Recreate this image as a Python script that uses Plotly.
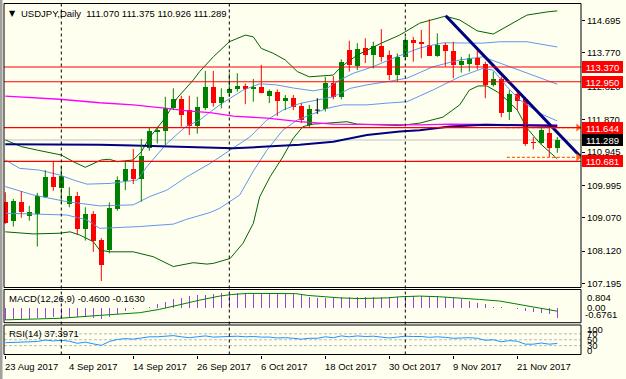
import plotly.graph_objects as go

W, H = 626, 379

# ---------------- data ----------------
dates = ["23 Aug", "24 Aug", "25 Aug", "28 Aug", "29 Aug", "30 Aug", "31 Aug",
         "1 Sep", "4 Sep", "5 Sep", "6 Sep", "7 Sep", "8 Sep", "11 Sep", "12 Sep", "13 Sep",
         "14 Sep", "15 Sep", "18 Sep", "19 Sep", "20 Sep", "21 Sep", "22 Sep", "25 Sep",
         "26 Sep", "27 Sep", "28 Sep", "29 Sep",
         "2 Oct", "3 Oct", "4 Oct", "5 Oct", "6 Oct", "9 Oct", "10 Oct", "11 Oct", "12 Oct",
         "13 Oct", "16 Oct", "17 Oct", "18 Oct", "19 Oct", "20 Oct", "23 Oct", "24 Oct",
         "25 Oct", "26 Oct", "27 Oct", "30 Oct", "31 Oct",
         "1 Nov", "2 Nov", "3 Nov", "6 Nov", "7 Nov", "8 Nov", "9 Nov", "10 Nov", "13 Nov",
         "14 Nov", "15 Nov", "16 Nov", "17 Nov", "20 Nov", "21 Nov", "22 Nov", "23 Nov",
         "24 Nov", "27 Nov", "28 Nov"]

opens = [109.53, 108.99, 109.51, 109.13, 109.18, 109.67, 110.23, 109.93, 109.46, 109.69,
         108.75, 109.18, 108.44, 108.15, 109.32, 110.12, 110.46, 110.18, 111.05, 111.53,
         111.55, 112.19, 112.46, 112.14, 111.70, 112.19, 112.81, 112.34, 112.62, 112.73,
         112.83, 112.73, 112.81, 112.55, 112.67, 112.41, 112.49, 112.26, 111.72, 112.14,
         112.16, 112.92, 112.51, 113.86, 113.40, 113.90, 113.71, 113.97, 113.71, 113.14,
         113.65, 114.14, 114.08, 114.00, 113.68, 114.00, 113.84, 113.43, 113.46, 113.62,
         113.46, 112.86, 113.03, 112.10, 112.60, 112.45, 111.20, 111.19, 111.48, 111.070]
highs = [109.80, 109.61, 109.83, 109.41, 109.78, 110.43, 110.67, 110.53, 109.94, 109.81,
         109.37, 109.26, 108.49, 109.51, 110.25, 110.67, 111.03, 111.32, 111.65, 111.67,
         112.52, 112.76, 112.55, 112.55, 112.52, 113.26, 113.26, 112.76, 113.19, 113.19,
         112.90, 113.03, 113.43, 112.73, 112.73, 112.57, 112.57, 112.34, 112.29, 112.48,
         113.09, 113.11, 113.59, 114.12, 114.05, 114.19, 114.09, 114.45, 113.84, 113.76,
         114.23, 114.23, 114.43, 114.73, 114.33, 114.06, 114.09, 113.66, 113.74, 113.93,
         113.52, 113.24, 113.09, 112.71, 112.71, 112.51, 111.37, 111.67, 111.67, 111.375]
lows = [108.90, 108.82, 109.07, 108.99, 108.25, 109.65, 109.84, 109.48, 109.37, 108.58,
        108.42, 108.10, 107.27, 108.06, 109.27, 109.86, 110.03, 109.53, 110.98, 111.19,
        111.15, 112.14, 111.67, 111.43, 111.47, 112.14, 112.24, 112.19, 112.52, 112.67,
        112.31, 112.38, 112.62, 112.34, 111.97, 112.14, 112.14, 111.77, 111.65, 112.03,
        112.10, 112.45, 112.45, 113.24, 113.28, 113.48, 113.33, 113.52, 113.00, 112.95,
        113.57, 113.52, 113.62, 113.68, 113.66, 113.38, 113.05, 113.21, 113.24, 113.30,
        112.48, 112.81, 111.94, 111.86, 112.14, 111.12, 111.02, 111.17, 110.80, 110.926]
closes = [108.91, 109.56, 109.24, 109.24, 109.69, 110.23, 109.94, 110.26, 109.69, 108.75,
          109.18, 108.42, 107.72, 109.34, 110.15, 110.46, 110.18, 110.84, 111.55, 111.57,
          112.19, 112.46, 112.00, 111.70, 112.24, 112.81, 112.34, 112.52, 112.74, 112.83,
          112.73, 112.81, 112.64, 112.69, 112.41, 112.50, 112.24, 111.86, 112.16, 112.14,
          112.92, 112.51, 113.52, 113.43, 113.88, 113.71, 113.97, 113.66, 113.14, 113.66,
          114.14, 114.06, 114.03, 113.68, 114.00, 113.84, 113.43, 113.55, 113.62, 113.43,
          112.86, 113.03, 112.07, 112.60, 112.41, 111.17, 111.19, 111.57, 111.07, 111.289]

# Bollinger bands (20,2) green, (20,1) blue
bb_up2_idx = [0, 2, 4, 7, 8.5, 10, 12, 13, 14, 16, 17, 18, 20, 21.5, 23.5, 24.3, 26, 28, 30, 31,
              32, 33.5, 35, 36.5, 38, 41, 42, 44, 47, 49.3, 51.8, 55, 56.8, 59, 61, 63, 65.2,
              67.7, 69]
bb_up2_val = [111.29, 111.10, 111.00, 110.86, 110.67, 110.51, 110.72, 110.74, 110.67, 110.72,
              110.95, 111.35, 111.92, 112.49, 113.00, 113.24, 113.66, 114.09, 114.28, 114.23,
              113.90, 113.76, 113.57, 113.24, 113.09, 113.14, 113.38, 113.71, 114.05, 114.28,
              114.62, 114.82, 114.71, 114.40, 114.31, 114.57, 114.85, 114.94, 114.97]
bb_lo2_idx = [0, 3.5, 6.8, 8.1, 9.3, 11, 11.8, 13.1, 16, 18.5, 21, 23.5, 25.2, 26, 28.1, 29.7,
              31, 31.8, 33.1, 34.7, 36, 37.2, 38.5, 40.2, 42.7, 44, 46, 49.3, 51.8, 54.7, 56.8,
              58, 59.1, 60.2, 61.5, 62.7, 64, 65.2, 66.8, 69]
bb_lo2_val = [108.67, 108.61, 108.63, 108.67, 108.58, 108.39, 108.15, 108.10, 108.10, 107.96,
              107.68, 107.79, 107.75, 107.77, 107.91, 108.34, 108.91, 109.67, 110.24, 110.81,
              111.34, 111.67, 111.74, 111.76, 111.81, 111.74, 111.72, 111.70, 111.77, 111.94,
              112.29, 112.71, 112.83, 112.83, 112.66, 112.43, 112.14, 111.63, 111.20, 110.75]
bb_up1_idx = [0, 1.8, 4.3, 6.8, 8.5, 10.2, 13.1, 15.2, 16.5, 17.7, 20.2, 22.5, 24.3, 26.8,
              29.7, 31.8, 33.9, 36, 38.5, 40.2, 41.8, 43.5, 46, 48.9, 51.8, 54.7, 59.7, 61.8,
              65.2, 69]
bb_up1_val = [110.72, 110.48, 110.43, 110.29, 110.15, 110.03, 110.05, 110.10, 110.15, 110.53,
              111.19, 111.66, 111.86, 112.29, 112.71, 112.89, 112.86, 112.77, 112.69, 112.76,
              113.00, 113.19, 113.38, 113.66, 113.91, 114.06, 114.05, 114.09, 114.09, 113.94]
bb_mid_idx = [0, 3.5, 7.7, 11.8, 16, 18, 20.2, 22.7, 25.6, 28.1, 30.6, 32.7, 34.7, 36.8, 39,
              41, 43.1, 45.2, 47.7, 50.2, 53.5, 56.8, 59.7, 61.8, 65.2, 69]
bb_mid_val = [109.96, 109.72, 109.53, 109.41, 109.44, 109.67, 109.86, 110.24, 110.62, 111.00,
              111.38, 111.86, 112.14, 112.33, 112.43, 112.52, 112.76, 112.86, 112.95, 113.05,
              113.38, 113.57, 113.66, 113.48, 113.19, 112.88]
bb_lo1_idx = [0, 7.7, 10.2, 11.8, 16.8, 21, 22.7, 25.6, 26.8, 29.3, 31, 32.7, 34.7, 36.5, 38.1,
              40.2, 42.2, 45.2, 47.7, 50.2, 53.5, 56.8, 59.7, 61, 62.7, 64.3, 66.8, 69]
bb_lo1_val = [109.20, 109.15, 109.01, 108.77, 108.82, 108.89, 109.03, 109.22, 109.34, 109.72,
              110.40, 111.00, 111.57, 111.86, 112.00, 112.19, 112.29, 112.29, 112.34, 112.38,
              112.72, 113.09, 113.33, 113.28, 112.81, 112.43, 112.05, 111.83]

# moving averages
ma_mag_idx = [0, 3.5, 6.8, 11.8, 16, 20.2, 22.7, 25.6, 28.5, 32.7, 36.8, 41, 45.2, 49.3, 51.8,
              55.6, 64.7, 69]
ma_mag_val = [112.54, 112.50, 112.45, 112.35, 112.29, 112.19, 112.12, 112.07, 111.97, 111.91,
              111.81, 111.74, 111.73, 111.72, 111.72, 111.74, 111.73, 111.72]
ma_navy_idx = [0, 3.5, 7.7, 11.8, 16, 20.2, 22.7, 25.6, 28.5, 32.7, 36.8, 41, 45.2, 49.3, 51.8,
               55.6, 60, 64, 69]
ma_navy_val = [111.17, 111.17, 111.17, 111.15, 111.13, 111.10, 111.07, 111.05, 111.05, 111.10,
               111.15, 111.24, 111.43, 111.53, 111.57, 111.67, 111.72, 111.71, 111.69]

# MACD(12,26,9)
macd_hist = [-0.57, -0.53, -0.53, -0.50, -0.47, -0.45, -0.43, -0.42, -0.41, -0.43,
             -0.43, -0.45, -0.50, -0.40, -0.27, -0.17, -0.08, -0.02, 0.02, 0.14,
             0.26, 0.36, 0.43, 0.50, 0.54, 0.58, 0.62, 0.63, 0.64, 0.64,
             0.64, 0.64, 0.64, 0.64, 0.63, 0.62, 0.60, 0.54, 0.46, 0.43,
             0.44, 0.43, 0.45, 0.46, 0.47, 0.47, 0.48, 0.48, 0.47, 0.48,
             0.50, 0.52, 0.53, 0.53, 0.52, 0.45, 0.43, 0.36, 0.29, 0.21,
             0.14, 0.04, 0.01, -0.01, -0.08, -0.16, -0.20, -0.23, -0.30, -0.46]
macd_sig_idx = [0, 6.8, 11.8, 14.3, 16.8, 19.3, 21.8, 24.3, 26.8, 28.3, 30.3, 34.3, 36.3, 37.8,
                41.8, 44.3, 47.8, 49.3, 51.8, 54.3, 56.8, 59.3, 61.8, 64.3, 66.8, 69]
macd_sig_val = [-0.55, -0.48, -0.35, -0.30, -0.23, -0.08, 0.14, 0.33, 0.51, 0.58, 0.63, 0.63,
                0.62, 0.54, 0.43, 0.40, 0.43, 0.48, 0.51, 0.48, 0.43, 0.36, 0.29, 0.14, 0.0,
                -0.163]

# RSI(14)
rsi = [40, 41, 41, 41, 44, 49, 46, 48, 45, 38, 42, 36, 31, 44, 51, 54, 52, 56, 60, 60,
       63, 64, 60, 57, 60, 63, 59, 60, 61, 62, 60, 61, 59, 59, 56, 57, 55, 52, 55, 55,
       60, 57, 63, 60, 63, 61, 62, 60, 56, 59, 62, 61, 61, 58, 60, 58, 55, 56, 57, 55,
       48, 50, 43, 47, 45, 35, 35, 39, 35, 37.4]
rsi_levels = [70, 50, 30]

# annotations / objects
xtick_idx = [0, 8, 16, 24, 32, 40, 48, 56, 64]
xtick_text = ["23 Aug 2017", "4 Sep 2017", "14 Sep 2017", "26 Sep 2017", "6 Oct 2017",
              "18 Oct 2017", "30 Oct 2017", "9 Nov 2017", "21 Nov 2017"]
price_ticks = [114.695, 113.770, 112.820, 111.870, 110.945, 109.995, 109.070, 108.120, 107.195]
levels = [113.370, 112.950, 111.644, 110.681]
bid = 111.289
month_starts = [7, 28, 50]
trend_x = [55.05, 71.96]
trend_y = [114.83, 110.80]
ray_x = [62.7, 71.6]
ray_y = [111.644, 110.795]

# ---------------- styling ----------------
BG = "#FFFFF0"
FONT = "Liberation Sans, Arial, sans-serif"
FS = 9.5
GREEN = "#008000"
RED = "#FF0000"
BBG = "#006400"
BLUE = "#6495ED"

X0, X1 = 4, 581
MAIN = (3.5, 287.5)
MACDP = (289.5, 322.7)
RSIP = (325.0, 354.5)


def fx(px):
    return px / W


def fy(py):
    return 1 - py / H


idx = list(range(len(closes)))
xr = [(X0 - 5.3) / 8, (X1 - 5.3) / 8]
main_range = [115.2805 - MAIN[1] / 35.07, 115.2805 - MAIN[0] / 35.07]

fig = go.Figure()

# bands + MAs
for xs, ys, col, wd in [(bb_up2_idx, bb_up2_val, BBG, 1), (bb_lo2_idx, bb_lo2_val, BBG, 1),
                        (bb_up1_idx, bb_up1_val, BLUE, 1), (bb_mid_idx, bb_mid_val, BLUE, 1),
                        (bb_lo1_idx, bb_lo1_val, BLUE, 1),
                        (ma_mag_idx, ma_mag_val, "#FF00FF", 1.3),
                        (ma_navy_idx, ma_navy_val, "#000080", 2)]:
    fig.add_trace(go.Scatter(x=xs, y=ys, mode="lines", line=dict(color=col, width=wd),
                             yaxis="y", hoverinfo="skip"))

# candles
groups = {
    GREEN: [i for i in idx if closes[i] > opens[i]],
    RED: [i for i in idx if closes[i] < opens[i]],
}
for col, ids in groups.items():
    wx, wy = [], []
    for i in ids:
        wx += [i, i, None]
        wy += [lows[i], highs[i], None]
    fig.add_trace(go.Scatter(x=wx, y=wy, mode="lines", line=dict(color=col, width=1),
                             yaxis="y", hoverinfo="skip"))
    fig.add_trace(go.Bar(x=ids, base=[min(opens[i], closes[i]) for i in ids],
                         y=[max(abs(closes[i] - opens[i]), 0.03) for i in ids],
                         width=0.62, marker=dict(color=col, line=dict(width=0)),
                         yaxis="y", hoverinfo="skip"))
dj = [i for i in idx if closes[i] == opens[i]]
dx, dy = [], []
for i in dj:
    dx += [i, i, None, i - 0.31, i + 0.31, None]
    dy += [lows[i], highs[i], None, opens[i], opens[i], None]
fig.add_trace(go.Scatter(x=dx, y=dy, mode="lines", line=dict(color="black", width=1),
                         yaxis="y", hoverinfo="skip"))

# trendline & rays
fig.add_trace(go.Scatter(x=trend_x, y=trend_y, mode="lines",
                         line=dict(color="#000080", width=3), yaxis="y"))
for v in ray_y:
    fig.add_trace(go.Scatter(x=ray_x, y=[v, v], mode="lines",
                             line=dict(color="#FF6A13", width=1.2, dash="3px,2px"), yaxis="y"))
    fig.add_trace(go.Scatter(x=[ray_x[1]], y=[v], mode="markers",
                             marker=dict(symbol="triangle-right", size=7, color="#FF6A13"),
                             yaxis="y"))

# MACD
fig.add_trace(go.Bar(x=idx, y=macd_hist, width=0.16, marker=dict(color="#A040E0", line=dict(width=0)),
                     yaxis="y2", hoverinfo="skip"))
fig.add_trace(go.Scatter(x=macd_sig_idx, y=macd_sig_val, mode="lines",
                         line=dict(color=GREEN, width=1), yaxis="y2"))

# RSI
fig.add_trace(go.Scatter(x=idx, y=rsi, mode="lines", line=dict(color="#1E90FF", width=1),
                         yaxis="y3"))

shapes = []
# level lines
for lv in levels:
    shapes.append(dict(type="line", xref="paper", yref="y", x0=fx(X0), x1=fx(X1), y0=lv, y1=lv,
                       line=dict(color=RED, width=1.2)))
shapes.append(dict(type="line", xref="paper", yref="y", x0=fx(X0), x1=fx(X1), y0=bid, y1=bid,
                   line=dict(color="#C0C0C0", width=1), layer="below"))
for lv in rsi_levels:
    shapes.append(dict(type="line", xref="paper", yref="y3", x0=fx(X0), x1=fx(X1), y0=lv, y1=lv,
                       line=dict(color="#B8B8B8", width=1, dash="3px,2px"), layer="below"))
for m in month_starts:
    shapes.append(dict(type="line", xref="x", yref="paper", x0=m, x1=m, y0=fy(RSIP[1]),
                       y1=fy(MAIN[0]), line=dict(color="black", width=1, dash="3px,3px")))
for top, bot in [MAIN, MACDP, RSIP]:
    shapes.append(dict(type="rect", xref="paper", yref="paper", x0=fx(X0), x1=fx(X1),
                       y0=fy(bot), y1=fy(top), line=dict(color="black", width=1)))
shapes.append(dict(type="rect", xref="paper", yref="paper", x0=0, x1=fx(2.5), y0=0, y1=1,
                   fillcolor="#A0A0A0", line=dict(width=0)))


def ann(text, x, y, xref="paper", yref="paper", xanchor="left", yanchor="middle",
        color="black", size=FS, family=FONT, **kw):
    d = dict(text=text, x=x, y=y, xref=xref, yref=yref, xanchor=xanchor, yanchor=yanchor,
             showarrow=False, borderwidth=0, borderpad=0,
             font=dict(family=family, size=size, color=color))
    d.update(kw)
    return d


anns = []
anns.append(ann("▼", fx(12.5), fy(13), xanchor="center", family="DejaVu Sans", size=8))
anns.append(ann("USDJPY,Daily  %.3f %.3f %.3f %.3f" % (opens[-1], highs[-1], lows[-1], closes[-1]),
                fx(20.5), fy(13)))
anns.append(ann("MACD(12,26,9) %.4f %.4f" % (macd_hist[-1], macd_sig_val[-1]), fx(8.5), fy(298)))
anns.append(ann("RSI(14) %.4f" % 37.3971, fx(8.5), fy(333.5)))
for i, t in zip(xtick_idx, xtick_text):
    anns.append(ann(t, i, fy(366), xref="x", xshift=-0.5))
# right label boxes
for lv in levels:
    anns.append(ann("%.3f" % lv, fx(582), lv, yref="y", color="white", bgcolor=RED,
                    width=41, height=12, align="center"))
anns.append(ann("%.3f" % bid, fx(582), bid, yref="y", color="white", bgcolor="black",
                width=41, height=12, align="center"))
# MACD / RSI scale labels
anns.append(ann("0.804", fx(586.5), fy(297)))
anns.append(ann("0.00", fx(586.5), fy(307)))
anns.append(ann("-0.6761", fx(584.5), fy(314)))
for t, py in [("100", 329.3), ("70", 333.7), ("50", 339.3), ("30", 345.3), ("0", 350)]:
    anns.append(ann(t, fx(586.5), fy(py)))

fig.update_layout(
    width=W, height=H, margin=dict(l=0, r=0, t=0, b=0),
    paper_bgcolor=BG, plot_bgcolor=BG, showlegend=False, hovermode=False,
    barmode="overlay", bargap=0,
    font=dict(family=FONT, size=FS, color="black"),
    xaxis=dict(domain=[fx(X0), fx(X1)], range=xr, anchor="y3", showgrid=False, zeroline=False,
               showline=False, showticklabels=False, ticks="outside", ticklen=3,
               tickcolor="black", tickvals=xtick_idx),
    yaxis=dict(domain=[fy(MAIN[1]), fy(MAIN[0])], range=main_range, side="right", anchor="x",
               showgrid=False, zeroline=False, showline=False, ticks="outside", ticklen=3,
               tickcolor="black", tickvals=price_ticks, ticktext=["%.3f" % v for v in price_ticks],
               tickfont=dict(family=FONT, size=FS, color="black")),
    yaxis2=dict(domain=[fy(MACDP[1]), fy(MACDP[0])], range=[-0.6761, 0.804], anchor="x",
                showgrid=False, zeroline=False, showticklabels=False),
    yaxis3=dict(domain=[fy(RSIP[1]), fy(RSIP[0])], range=[0, 100], anchor="x",
                showgrid=False, zeroline=False, showticklabels=False),
    shapes=shapes, annotations=anns,
)

fig.write_html("out.html", config={"displayModeBar": False, "staticPlot": True},
               post_script="document.body.style.margin='0';document.body.style.overflow='hidden';")
